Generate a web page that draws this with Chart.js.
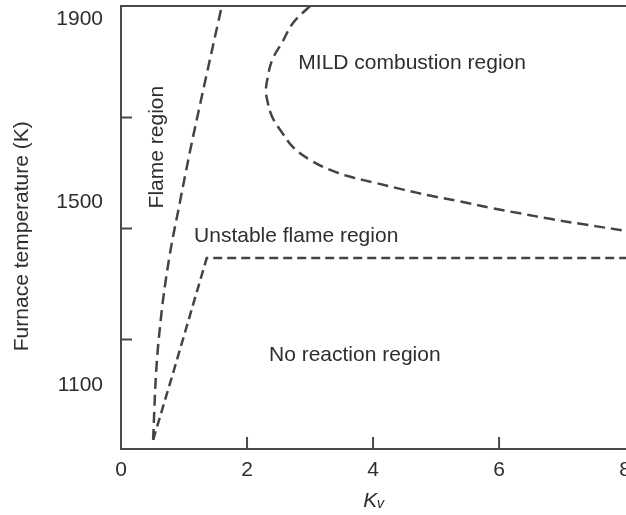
<!DOCTYPE html>
<html>
<head>
<meta charset="utf-8">
<script src="https://cdn.jsdelivr.net/npm/chart.js@4.4.1/dist/chart.umd.min.js"></script>
<style>
  html, body { margin: 0; padding: 0; background: #fff; overflow: hidden; }
  #wrap { width: 640px; height: 515px; }
</style>
</head>
<body>
<div id="wrap"><canvas id="regimeChart" width="640" height="515"></canvas></div>
<script>
// 火焰区与不稳定火焰区的分界线 (Kv, K)
const flameK = [0.51, 0.55, 0.63, 0.76, 0.92, 1.10, 1.30, 1.50, 1.60];
const flameT = [980, 1111, 1242, 1374, 1490, 1615, 1743, 1868, 1930];

// 无反应区的上边界
const noReactK = [0.51, 0.83, 1.36, 8.03];
const noReactT = [980, 1128, 1378, 1378];

// MILD 燃烧区的边界
const mildK = [3.00, 2.73, 2.56, 2.40, 2.32, 2.30, 2.32, 2.40, 2.56, 2.73, 3.00, 3.32, 3.64,
               4.06, 4.48, 4.90, 5.38, 5.90, 6.33, 6.81, 7.29, 7.81, 8.03];
const mildT = [1930, 1893, 1851, 1812, 1768, 1746, 1724, 1687, 1652, 1621, 1593, 1571, 1556,
               1542, 1528, 1515, 1502, 1487, 1476, 1464, 1453, 1442, 1437];

// 刻度
const xTicks = [0, 2, 4, 6, 8];
const xMarks = [2, 4, 6];
const yTicks = [1100, 1500, 1900];
const yMarks = [1200, 1443, 1686];

const toPoints = (xs, ys) => xs.map((x, i) => ({ x: x, y: ys[i] }));

// 区域名称
const regionLabels = [
    { text: 'MILD combustion region', x: 4.62, y: 1805, rotate: 0 },
    { text: 'Flame region', x: 0.57, y: 1621, rotate: -Math.PI / 2 },
    { text: 'Unstable flame region', x: 2.78, y: 1426, rotate: 0 },
    { text: 'No reaction region', x: 3.71, y: 1166, rotate: 0 }
];

const frameAndLabels = {
    id: 'frameAndLabels',
    afterDatasetsDraw(chart) {
        const { ctx, chartArea: a, scales: { x, y } } = chart;
        ctx.save();
        // 坐标框
        ctx.strokeStyle = '#4a4a4a';
        ctx.lineWidth = 2;
        ctx.strokeRect(a.left, a.top, a.right - a.left, a.bottom - a.top);
        // 向内的刻度线
        ctx.beginPath();
        xMarks.forEach(v => {
            const px = x.getPixelForValue(v);
            ctx.moveTo(px, a.bottom);
            ctx.lineTo(px, a.bottom - 12);
        });
        yMarks.forEach(v => {
            const py = y.getPixelForValue(v);
            ctx.moveTo(a.left, py);
            ctx.lineTo(a.left + 11, py);
        });
        ctx.stroke();
        // 文字
        ctx.fillStyle = '#2e2e2e';
        ctx.font = '21px "Liberation Sans", Arial, sans-serif';
        ctx.textAlign = 'center';
        ctx.textBaseline = 'middle';
        regionLabels.forEach(l => {
            ctx.save();
            ctx.translate(x.getPixelForValue(l.x), y.getPixelForValue(l.y));
            ctx.rotate(l.rotate);
            ctx.fillText(l.text, 0, 0);
            ctx.restore();
        });
        ctx.restore();
    }
};

Chart.defaults.font.family = '"Liberation Sans", Arial, sans-serif';
Chart.defaults.color = '#2e2e2e';

const lineStyle = {
    showLine: true,
    pointRadius: 0,
    borderColor: '#444',
    borderWidth: 2.5,
    fill: false
};

const ctx = document.getElementById('regimeChart').getContext('2d');
new Chart(ctx, {
    type: 'scatter',
    data: {
        datasets: [
            { ...lineStyle, label: 'Flame limit', data: toPoints(flameK, flameT),
              cubicInterpolationMode: 'monotone', borderDash: [11, 6] },
            { ...lineStyle, label: 'Reaction limit', data: toPoints(noReactK, noReactT),
              tension: 0, borderDash: [9, 5] },
            { ...lineStyle, label: 'MILD limit', data: toPoints(mildK, mildT),
              tension: 0.4, borderDash: [11, 6] }
        ]
    },
    options: {
        responsive: false,
        animation: false,
        layout: { padding: { top: 6, right: 13, left: 0, bottom: 0 } },
        plugins: {
            legend: { display: false },
            tooltip: { enabled: false }
        },
        scales: {
            x: {
                type: 'linear',
                min: 0,
                max: 8.03,
                afterBuildTicks: s => { s.ticks = xTicks.map(v => ({ value: v })); },
                afterFit: s => { s.height = 66; s.paddingLeft = 0; s.paddingRight = 0; },
                grid: { display: false, drawTicks: false },
                border: { display: false },
                ticks: { padding: 9, font: { size: 21 }, autoSkip: false, maxRotation: 0,
                         callback: v => String(v) },
                title: {
                    display: true,
                    text: 'Kᵥ',
                    font: { size: 21, style: 'italic' },
                    padding: { top: 0, bottom: 1 }
                }
            },
            y: {
                type: 'linear',
                min: 960,
                max: 1930,
                afterBuildTicks: s => { s.ticks = yTicks.map(v => ({ value: v })); },
                afterFit: s => { s.width = 121; s.paddingTop = 0; s.paddingBottom = 0; },
                grid: { display: false, drawTicks: false },
                border: { display: false },
                ticks: { padding: 18, font: { size: 21 }, autoSkip: false,
                         callback: v => String(v) },
                title: {
                    display: true,
                    text: 'Furnace temperature (K)   ',
                    font: { size: 21 },
                    padding: { top: 10, bottom: 0 }
                }
            }
        }
    },
    plugins: [frameAndLabels]
});
</script>
</body>
</html>
